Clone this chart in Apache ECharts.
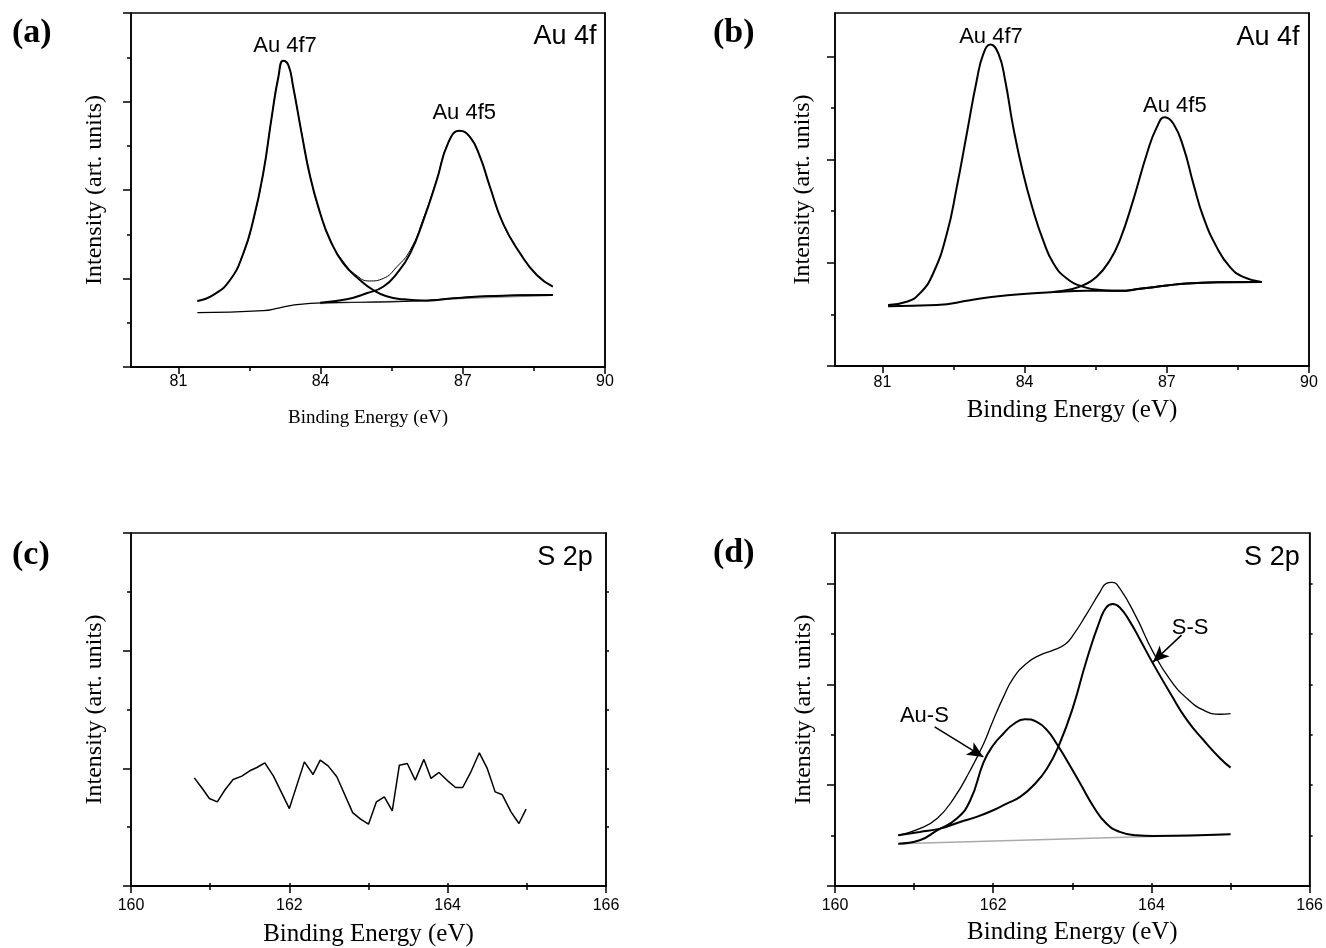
<!DOCTYPE html>
<html><head><meta charset="utf-8">
<script src="https://cdn.jsdelivr.net/npm/echarts@6/dist/echarts.min.js"></script>
<style>html,body{margin:0;padding:0;background:#fff}#c{width:1326px;height:948px}</style>
</head><body><div id="c"></div>
<script>
// ---------- Panel (a) : Au 4f ----------
const a_bg_x  = [81.40, 82.79, 83.11, 83.42, 84.13, 85.11, 86.08, 86.80, 87.50, 88.90];
const a_bg_y  = [0.614, 0.636, 0.665, 0.700, 0.727, 0.734, 0.746, 0.776, 0.800, 0.814];
const a_bg2_x = [83.99, 88.90];
const a_bg2_y = [0.715, 0.808];
const a_4f7_x = [81.40, 81.74, 82.09, 82.37, 82.58, 82.79, 82.97, 83.11, 83.21, 83.32, 83.42, 83.60, 83.78, 83.99, 84.20, 84.48, 84.83, 85.11, 85.39, 85.74, 86.24, 86.80, 87.50, 88.90];
const a_4f7_y = [0.746, 0.814, 0.983, 1.284, 1.66, 2.19, 2.83, 3.28, 3.46, 3.41, 3.17, 2.64, 2.15, 1.74, 1.435, 1.17, 0.983, 0.87, 0.80, 0.765, 0.75, 0.776, 0.80, 0.814];
const a_4f5_x = [83.99, 84.55, 84.97, 85.32, 85.61, 85.89, 86.17, 86.45, 86.69, 86.93, 87.15, 87.36, 87.57, 87.85, 88.21, 88.56, 88.90];
const a_4f5_y = [0.727, 0.765, 0.833, 0.907, 1.058, 1.284, 1.66, 2.11, 2.53, 2.67, 2.60, 2.38, 2.04, 1.62, 1.284, 1.04, 0.907];
const a_env_x = [81.40, 81.74, 82.09, 82.37, 82.58, 82.79, 82.97, 83.11, 83.21, 83.32, 83.42, 83.60, 83.78, 83.99, 84.20, 84.48, 84.77, 85.03, 85.32, 85.61, 85.89, 86.17, 86.45, 86.69, 86.93, 87.15, 87.36, 87.57, 87.85, 88.21, 88.56, 88.90];
const a_env_y = [0.746, 0.814, 0.983, 1.284, 1.66, 2.19, 2.83, 3.28, 3.46, 3.41, 3.17, 2.64, 2.15, 1.74, 1.435, 1.19, 1.03, 0.972, 1.0, 1.133, 1.32, 1.68, 2.12, 2.53, 2.67, 2.60, 2.38, 2.04, 1.62, 1.284, 1.04, 0.907];

// ---------- Panel (b) : Au 4f ----------
const b_bg_x  = [81.12, 82.15, 82.85, 83.34, 83.90, 84.61, 85.31, 86.01, 86.43, 87.00, 87.42, 88.12, 89.00];
const b_bg_y  = [0.58, 0.59, 0.638, 0.67, 0.696, 0.716, 0.728, 0.728, 0.748, 0.78, 0.80, 0.812, 0.815];
const b_4f7_x = [81.12, 81.51, 81.79, 82.07, 82.36, 82.57, 82.78, 82.99, 83.13, 83.28, 83.45, 83.59, 83.76, 83.97, 84.18, 84.39, 84.61, 84.89, 85.24, 85.66, 86.01, 86.43, 87.00, 87.42, 88.12, 89.00];
const b_4f7_y = [0.59, 0.622, 0.703, 0.896, 1.283, 1.734, 2.25, 2.766, 3.024, 3.114, 3.024, 2.766, 2.314, 1.864, 1.509, 1.219, 0.993, 0.848, 0.767, 0.735, 0.728, 0.748, 0.78, 0.80, 0.812, 0.815];
const b_4f5_x = [84.61, 84.96, 85.24, 85.52, 85.80, 86.01, 86.29, 86.58, 86.79, 86.96, 87.14, 87.35, 87.56, 87.77, 88.05, 88.33, 88.61, 89.00];
const b_4f5_y = [0.716, 0.742, 0.783, 0.864, 1.025, 1.219, 1.605, 2.057, 2.314, 2.411, 2.347, 2.121, 1.767, 1.444, 1.154, 0.96, 0.864, 0.815];

// ---------- Panel (c) : S 2p (raw, noise) ----------
const c_x = [160.80, 160.91, 160.99, 161.09, 161.19, 161.29, 161.40, 161.50, 161.59, 161.69, 161.80, 162.00, 162.19, 162.30, 162.39, 162.49, 162.60, 162.80, 162.90, 163.00, 163.10, 163.20, 163.30, 163.39, 163.49, 163.59, 163.70, 163.79, 163.89, 164.00, 164.10, 164.19, 164.29, 164.40, 164.50, 164.60, 164.69, 164.80, 164.90, 164.99];
const c_y = [0.919, 0.820, 0.744, 0.715, 0.820, 0.905, 0.934, 0.979, 1.007, 1.047, 0.934, 0.658, 1.055, 0.948, 1.070, 1.021, 0.928, 0.624, 0.568, 0.525, 0.715, 0.757, 0.638, 1.027, 1.041, 0.900, 1.076, 0.914, 0.965, 0.894, 0.837, 0.837, 0.965, 1.132, 0.999, 0.800, 0.775, 0.630, 0.531, 0.653];

// ---------- Panel (d) : S 2p (fitted) ----------
const d_bg_x  = [160.80, 165.00];
const d_bg_y  = [0.42, 0.513];
const d_aus_x = [160.80, 161.07, 161.29, 161.54, 161.71, 161.88, 162.00, 162.13, 162.25, 162.40, 162.55, 162.68, 162.80, 162.93, 163.10, 163.27, 163.43, 163.60, 163.81, 164.02, 165.00];
const d_aus_y = [0.42, 0.453, 0.552, 0.669, 0.850, 1.230, 1.396, 1.512, 1.601, 1.654, 1.627, 1.545, 1.413, 1.247, 1.016, 0.784, 0.619, 0.536, 0.503, 0.496, 0.513];
const d_ss_x  = [160.80, 161.07, 161.33, 161.58, 161.79, 162.00, 162.17, 162.34, 162.51, 162.68, 162.84, 163.01, 163.18, 163.35, 163.43, 163.51, 163.60, 163.73, 163.86, 164.02, 164.24, 164.45, 164.66, 164.87, 165.00];
const d_ss_y  = [0.503, 0.536, 0.569, 0.635, 0.685, 0.751, 0.817, 0.883, 0.999, 1.165, 1.413, 1.776, 2.239, 2.636, 2.762, 2.795, 2.762, 2.619, 2.437, 2.206, 1.909, 1.644, 1.445, 1.264, 1.174];
const d_env_x = [160.80, 161.07, 161.29, 161.50, 161.71, 161.88, 162.00, 162.13, 162.25, 162.42, 162.59, 162.76, 162.91, 163.01, 163.18, 163.35, 163.43, 163.50, 163.60, 163.81, 164.02, 164.24, 164.45, 164.66, 164.87, 165.00];
const d_env_y = [0.503, 0.569, 0.669, 0.867, 1.148, 1.413, 1.644, 1.875, 2.057, 2.206, 2.289, 2.338, 2.398, 2.487, 2.695, 2.917, 3.0, 3.01, 2.95, 2.663, 2.321, 2.041, 1.859, 1.743, 1.703, 1.710];

// ---------- tick values ----------
const auTicks = [81, 84, 87, 90];
const auMinor = [82.5, 85.5, 88.5];
const sTicks  = [160, 162, 164, 166];
const sMinor  = [161, 163, 165];
const sTop    = [161, 162, 163, 164, 165];

// ---------- text annotations ----------
const a_labels = [['Au 4f7', 83.25, 3.63], ['Au 4f5', 87.03, 2.87]];
const b_labels = [['Au 4f7', 83.29, 3.19], ['Au 4f5', 87.17, 2.52]];
const d_labels = [['Au-S', 161.13, 1.69], ['S-S', 164.49, 2.56]];
const d_arrows = [[[161.26, 1.577], [161.875, 1.28]], [[164.38, 2.487], [164.02, 2.222]]];
const corner = [['Au 4f', 89.83, 3.73], ['Au 4f', 89.81, 3.18], ['S 2p', 165.84, 2.79], ['S 2p', 165.88, 3.26]];

const SANS = 'Liberation Sans, Arial, sans-serif';
const SERIF = 'Liberation Serif, Times New Roman, serif';
const zip = (xs, ys) => xs.map((x, i) => [x, ys[i]]);

const grids = [
  {left: 131, top: 13, width: 474, height: 354},
  {left: 835, top: 13, width: 474, height: 353},
  {left: 131, top: 533, width: 475, height: 353},
  {left: 835, top: 533, width: 475, height: 353}
];
const panels = [
  {xmin: 80, xmax: 90, xt: auTicks, xm: auMinor, ymax: 4, yt: [0,1,2,3,4], ym: [0.5,1.5,2.5,3.5], mirror: false, xnf: 19, xng: 42, yng: 24, lm: 7},
  {xmin: 80, xmax: 90, xt: auTicks, xm: auMinor, ymax: 3.42, yt: [0,1,2,3], ym: [0.5,1.5,2.5], mirror: false, xnf: 25, xng: 32, yng: 20, lm: 9},
  {xmin: 160, xmax: 166, xt: sTicks, xm: sMinor, ymax: 3, yt: [0,1,2,3], ym: [0.5,1.5,2.5], mirror: true, rt: [0.5,1,1.5,2,2.5], xnf: 25, xng: 36, yng: 24, lm: 12},
  {xmin: 160, xmax: 166, xt: sTicks, xm: sMinor, ymax: 3.5, yt: [0,1,2,3], ym: [0.5,1.5,2.5,3.5], mirror: true, rt: [0.5,1,1.5,2,2.5,3], xnf: 25, xng: 34, yng: 19, lm: 12}
];

const xAxis = [], yAxis = [], mainX = [], mainY = [];
const blk = {color: '#000', width: 1.5};
panels.forEach((p, g) => {
  mainX.push(xAxis.length);
  xAxis.push({gridIndex: g, type: 'value', min: p.xmin, max: p.xmax, position: 'bottom',
    axisLine: {show: true, lineStyle: blk},
    axisTick: {show: true, customValues: p.xt, length: 7, lineStyle: blk},
    axisLabel: {show: true, customValues: p.xt, margin: p.lm, color: '#000', fontFamily: SANS, fontSize: 16},
    splitLine: {show: false},
    name: 'Binding Energy (eV)', nameLocation: 'middle', nameGap: p.xng,
    nameTextStyle: {fontFamily: SERIF, fontSize: p.xnf, color: '#000'}});
  xAxis.push({gridIndex: g, type: 'value', min: p.xmin, max: p.xmax, position: 'bottom',
    axisLine: {show: false}, axisTick: {show: true, customValues: p.xm, length: 4, lineStyle: blk},
    axisLabel: {show: false}, splitLine: {show: false}});
  xAxis.push({gridIndex: g, type: 'value', min: p.xmin, max: p.xmax, position: 'top',
    axisLine: {show: true, lineStyle: blk},
    axisTick: {show: p.mirror, customValues: sTop, length: 3, lineStyle: blk},
    axisLabel: {show: false}, splitLine: {show: false}});

  mainY.push(yAxis.length);
  yAxis.push({gridIndex: g, type: 'value', min: 0, max: p.ymax, position: 'left',
    axisLine: {show: true, lineStyle: blk},
    axisTick: {show: true, customValues: p.yt, length: 8, lineStyle: blk},
    axisLabel: {show: false}, splitLine: {show: false},
    name: 'Intensity (art. units)', nameLocation: 'middle', nameGap: p.yng,
    nameTextStyle: {fontFamily: SERIF, fontSize: 24, color: '#000'}});
  yAxis.push({gridIndex: g, type: 'value', min: 0, max: p.ymax, position: 'left',
    axisLine: {show: false}, axisTick: {show: true, customValues: p.ym, length: 4, lineStyle: blk},
    axisLabel: {show: false}, splitLine: {show: false}});
  yAxis.push({gridIndex: g, type: 'value', min: 0, max: p.ymax, position: 'right',
    axisLine: {show: true, lineStyle: blk},
    axisTick: {show: p.mirror, customValues: p.rt || [], length: 3, lineStyle: blk},
    axisLabel: {show: false}, splitLine: {show: false}});
});

function line(g, xs, ys, w, color, smooth, extra) {
  return Object.assign({type: 'line', xAxisIndex: mainX[g], yAxisIndex: mainY[g], data: zip(xs, ys),
    showSymbol: false, symbol: 'none', smooth: smooth ? 0.5 : false,
    lineStyle: {color: color, width: w}, silent: true, z: 3}, extra || {});
}
function texts(g, list, size, right) {
  return {type: 'scatter', xAxisIndex: mainX[g], yAxisIndex: mainY[g], symbolSize: 1,
    itemStyle: {color: 'rgba(0,0,0,0)', opacity: 1}, silent: true, z: 5,
    data: list.map(t => ({value: [t[1], t[2]], name: t[0]})),
    label: {show: true, formatter: '{b}', position: right ? 'left' : 'inside', distance: 0,
      color: '#000', opacity: 1, textBorderWidth: 0, fontFamily: SANS, fontSize: size}};
}

const series = [
  line(0, a_bg2_x, a_bg2_y, 1, '#999', false),
  line(0, a_bg_x, a_bg_y, 1.2, '#000', true),
  line(0, a_env_x, a_env_y, 1, '#000', true),
  line(0, a_4f7_x, a_4f7_y, 2, '#000', true),
  line(0, a_4f5_x, a_4f5_y, 2, '#000', true),
  texts(0, a_labels, 22, false),
  texts(0, [corner[0]], 27, true),

  line(1, b_bg_x, b_bg_y, 2, '#000', true),
  line(1, b_4f7_x, b_4f7_y, 2, '#000', true),
  line(1, b_4f5_x, b_4f5_y, 2, '#000', true),
  texts(1, b_labels, 22, false),
  texts(1, [corner[1]], 27, true),

  line(2, c_x, c_y, 1.5, '#000', false),
  texts(2, [corner[2]], 27, true),

  line(3, d_bg_x, d_bg_y, 1.5, '#aaa', false),
  line(3, d_env_x, d_env_y, 1.3, '#000', true),
  line(3, d_ss_x, d_ss_y, 2, '#000', true),
  line(3, d_aus_x, d_aus_y, 2, '#000', true, {
    markLine: {silent: true, animation: false, symbol: ['none', 'arrow'], symbolSize: [11, 16],
      label: {show: false}, lineStyle: {color: '#000', width: 1.5, type: 'solid'},
      data: d_arrows.map(a => [{coord: a[0]}, {coord: a[1]}])}
  }),
  texts(3, d_labels, 22, false),
  texts(3, [corner[3]], 27, true)
];

const letters = [['(a)', 12, 36], ['(b)', 713, 36], ['(c)', 12, 558], ['(d)', 713, 556]];
const chart = echarts.init(document.getElementById('c'), null, {renderer: 'canvas'});
chart.setOption({
  animation: false,
  backgroundColor: '#fff',
  grid: grids.map(g => Object.assign({show: true, borderColor: '#000', borderWidth: 1.5, backgroundColor: 'transparent'}, g)),
  xAxis: xAxis, yAxis: yAxis, series: series,
  graphic: letters.map(l => ({type: 'text', left: l[1], top: l[2] - 20,
    style: {text: l[0], font: 'bold 34px ' + SERIF, fill: '#000'}}))
});
</script></body></html>
